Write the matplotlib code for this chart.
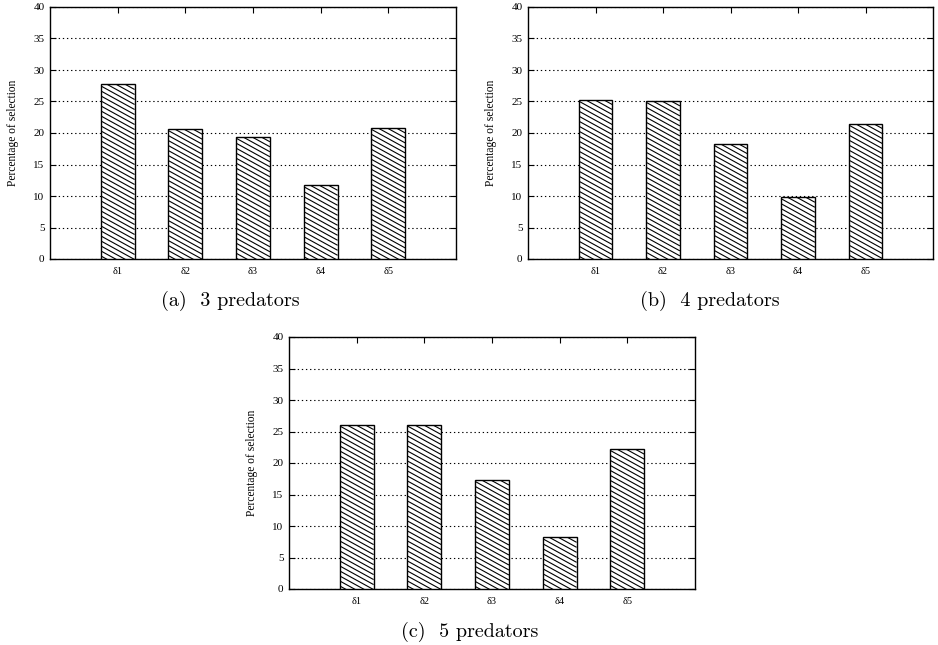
import matplotlib
matplotlib.use("Agg")
import matplotlib.pyplot as plt
import numpy as np

# Percentage of selection per parameter
labels = ["δ1", "δ2", "δ3", "δ4", "δ5"]
sel_3pred = [27.7, 20.6, 19.4, 11.7, 20.8]
sel_4pred = [25.3, 25.1, 18.3, 9.8, 21.5]
sel_5pred = [26.1, 26.1, 17.3, 8.2, 22.2]
captions = ["(a)  3 predators", "(b)  4 predators", "(c)  5 predators"]

serif = ["Liberation Serif", "DejaVu Serif"]

W, H = 938, 645
fig = plt.figure(figsize=(W / 100, H / 100), dpi=100)

# axes boxes in pixels: left, top, right, bottom
boxes = [(50, 7, 456, 259), (528, 7, 933, 259), (289, 337, 695, 589)]
caption_pos = [(230, 301), (710, 301), (470, 632)]
data = [sel_3pred, sel_4pred, sel_5pred]

XMAX, YMAX = 6, 40
hatch_gap = 5.0    # vertical pixel gap between hatch lines
hatch_slope = 0.55  # pixels down per pixel right


def hatch_bar(ax, rect, px_x, px_y):
    # gnuplot-like shallow diagonal hatch, clipped to the bar
    x0, y0 = rect.get_x(), rect.get_y()
    wp, hp = rect.get_width() * px_x, rect.get_height() * px_y
    xs = np.array([0.0, wp])
    c = hp + hatch_slope * wp
    while c > 0:
        ys = c - hatch_slope * xs
        ln, = ax.plot(x0 + xs / px_x, y0 + ys / px_y, color="black",
                      linewidth=0.8, zorder=3.5, solid_capstyle="butt")
        ln.set_clip_path(rect)
        c -= hatch_gap


def panel(box, values):
    l, t, r, b = box
    ax = fig.add_axes([l / W, 1 - b / H, (r - l) / W, (b - t) / H])
    px_x = (r - l) / XMAX
    px_y = (b - t) / YMAX
    x = list(range(1, len(values) + 1))
    bars = ax.bar(x, values, width=0.5, facecolor="white", edgecolor="none",
                  zorder=3)
    for rect in bars:
        hatch_bar(ax, rect, px_x, px_y)
    ax.bar(x, values, width=0.5, fill=False, edgecolor="black",
           linewidth=1.0, zorder=4)
    ax.set_xlim(0, XMAX)
    ax.set_ylim(0, YMAX)
    ax.set_yticks(range(0, 41, 5))
    ax.set_xticks(x)
    ax.set_xticklabels(labels, fontfamily=serif, fontsize=7.5)
    for lab in ax.get_yticklabels():
        lab.set_fontfamily(serif)
        lab.set_fontsize(8)
    ax.tick_params(axis="x", direction="in", length=4, top=True, bottom=False,
                   pad=6, width=0.8)
    ax.tick_params(axis="y", direction="in", length=4, left=True, right=True,
                   width=0.8, pad=4)
    ax.yaxis.grid(True, linestyle=(0, (1.2, 2.5)), color="black", linewidth=0.8,
                  zorder=0)
    ax.set_axisbelow(True)
    ax.set_ylabel("Percentage of selection", fontfamily=serif, fontsize=8.3,
                  labelpad=10)
    for s in ax.spines.values():
        s.set_linewidth(1.0)
    return ax


for box, vals, cap, (cx, cy) in zip(boxes, data, captions, caption_pos):
    panel(box, vals)
    fig.text(cx / W, 1 - cy / H, cap, ha="center", va="center",
             fontfamily="cmr10", fontsize=14.5)

fig.savefig("out.png", dpi=100)
